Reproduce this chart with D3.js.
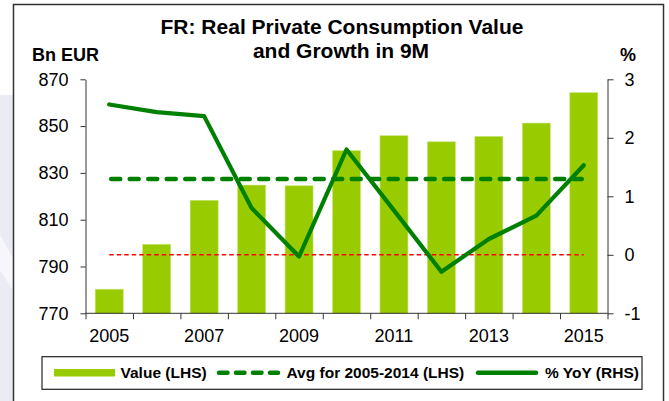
<!DOCTYPE html>
<html>
<head>
<meta charset="utf-8">
<script src="https://cdn.jsdelivr.net/npm/d3@7"></script>
<style>
  body { margin: 0; background: #fff; }
  svg { display: block; font-family: "Liberation Sans", Arial, sans-serif; }
  .axis path, .axis line { stroke: #333; }
  .axis text { font-size: 18px; fill: #000; }
</style>
</head>
<body>
<svg id="chart" width="669" height="401"></svg>
<script>
// data
var years = [2005, 2006, 2007, 2008, 2009, 2010, 2011, 2012, 2013, 2014, 2015];
var values = [780.3, 799.5, 818.3, 824.8, 824.5, 839.5, 845.9, 843.3, 845.6, 851.3, 864.3];
var yoy = [2.57, 2.44, 2.37, 0.80, -0.03, 1.80, 0.76, -0.29, 0.27, 0.67, 1.53];
var avgValue = 827.4;
var leftTicks = [770, 790, 810, 830, 850, 870];
var rightTicks = [-1, 0, 1, 2, 3];
var yearLabels = [2005, 2007, 2009, 2011, 2013, 2015];

var barColor = "#99cc00",
    lineColor = "#008000";

var svg = d3.select("#chart");

// slide background strip on the left + frame
svg.append("rect").attr("x", 0).attr("y", 95).attr("width", 13).attr("height", 306).attr("fill", "#ebebf4");
svg.append("path").attr("d", "M0,235 L13,258 L13,290 L0,270 Z").attr("fill", "#f7f7fb");
svg.append("path")
    .attr("d", "M13.5,410 V4.5 H663.5 V410")
    .attr("fill", "none").attr("stroke", "#333").attr("stroke-width", 1.5);

var plot = {left: 85.5, right: 607.5, top: 79.3, bottom: 313.3};

var x = d3.scaleBand()
    .domain(years)
    .range([plot.left, plot.right])
    .paddingInner(0.41)
    .paddingOuter(0.205);

var yL = d3.scaleLinear().domain([770, 870]).range([plot.bottom, plot.top]);
var yR = d3.scaleLinear().domain([-1, 3]).range([plot.bottom, plot.top]);

function cx(d) { return x(d) + x.bandwidth() / 2; }

// bars
svg.append("g").selectAll("rect")
    .data(years)
    .enter().append("rect")
    .attr("x", function(d) { return x(d); })
    .attr("width", x.bandwidth())
    .attr("y", function(d, i) { return yL(values[i]); })
    .attr("height", function(d, i) { return yL(770) - yL(values[i]); })
    .attr("fill", barColor)
    .attr("stroke", "#c8e47a")
    .attr("stroke-width", 0.6);

// zero line on RHS (red dashed)
svg.append("line")
    .attr("x1", cx(years[0])).attr("x2", cx(years[years.length - 1]))
    .attr("y1", yR(0)).attr("y2", yR(0))
    .attr("stroke", "#ff0000").attr("stroke-width", 1.6)
    .attr("stroke-dasharray", "4.5,3");

// average line (LHS)
svg.append("line")
    .attr("x1", cx(years[0]) + 2).attr("x2", cx(years[years.length - 1]) - 2)
    .attr("y1", yL(avgValue)).attr("y2", yL(avgValue))
    .attr("stroke", lineColor).attr("stroke-width", 4.5)
    .attr("stroke-linecap", "round")
    .attr("stroke-dasharray", "9,9.5");

// % YoY line (RHS)
var line = d3.line()
    .x(function(d, i) { return cx(years[i]); })
    .y(function(d) { return yR(d); });

svg.append("path")
    .datum(yoy)
    .attr("d", line)
    .attr("fill", "none")
    .attr("stroke", lineColor)
    .attr("stroke-width", 4.2)
    .attr("stroke-linejoin", "round")
    .attr("stroke-linecap", "round");

// axes
svg.append("g")
    .attr("class", "axis")
    .attr("transform", "translate(" + plot.left + ",0)")
    .call(d3.axisLeft(yL).tickValues(leftTicks).tickSize(5).tickSizeOuter(0).tickPadding(12));

svg.append("g")
    .attr("class", "axis")
    .attr("transform", "translate(" + plot.right + ",0)")
    .call(d3.axisRight(yR).tickValues(rightTicks)
        .tickFormat(function(d) { return String(d); })
        .tickSize(6).tickSizeOuter(0).tickPadding(11));

// bottom axis: tick marks between bands, labels every other year
var edges = years.map(function(d) { return x(d) - (x.step() - x.bandwidth()) / 2; });
edges.push(plot.right);
var edgeScale = d3.scaleIdentity();

var bottom = svg.append("g")
    .attr("class", "axis")
    .attr("transform", "translate(0," + plot.bottom + ")")
    .call(d3.axisBottom(edgeScale).tickValues(edges).tickSize(6).tickSizeOuter(0).tickFormat(""));
bottom.select(".domain").attr("d", "M" + plot.left + ",0H" + plot.right);

svg.append("g")
    .attr("class", "axis")
    .attr("transform", "translate(0," + plot.bottom + ")")
    .call(d3.axisBottom(x).tickValues(yearLabels).tickSize(0).tickPadding(16))
    .select(".domain").remove();

// titles
var title = svg.append("text")
    .attr("text-anchor", "middle")
    .attr("font-weight", "bold")
    .attr("font-size", 21);
title.append("tspan").attr("x", 342).attr("y", 34.3).text("FR: Real Private Consumption Value");
title.append("tspan").attr("x", 341).attr("y", 57.5).text("and Growth in 9M");

svg.append("text")
    .attr("x", 32).attr("y", 61)
    .attr("font-weight", "bold").attr("font-size", 18)
    .text("Bn EUR");

svg.append("text")
    .attr("x", 628).attr("y", 61)
    .attr("text-anchor", "middle")
    .attr("font-weight", "bold").attr("font-size", 18)
    .text("%");

// legend
var legend = svg.append("g");
legend.append("rect")
    .attr("x", 42).attr("y", 356.7).attr("width", 600).attr("height", 32.6)
    .attr("fill", "#fff").attr("stroke", "#222").attr("stroke-width", 1.2);

legend.append("rect")
    .attr("x", 54).attr("y", 369).attr("width", 61).attr("height", 7.5)
    .attr("fill", barColor);
legend.append("line")
    .attr("x1", 219).attr("x2", 278).attr("y1", 372.7).attr("y2", 372.7)
    .attr("stroke", lineColor).attr("stroke-width", 4.5)
    .attr("stroke-linecap", "round").attr("stroke-dasharray", "8.5,8.5");
legend.append("line")
    .attr("x1", 478).attr("x2", 536).attr("y1", 372.7).attr("y2", 372.7)
    .attr("stroke", lineColor).attr("stroke-width", 4.5)
    .attr("stroke-linecap", "round");

var legendLabels = ["Value (LHS)", "Avg for 2005-2014 (LHS)", "% YoY (RHS)"];
var legendX = [120.5, 286.5, 545];
legend.selectAll("text.lbl")
    .data(legendLabels)
    .enter().append("text")
    .attr("class", "lbl")
    .attr("x", function(d, i) { return legendX[i]; })
    .attr("y", 378)
    .attr("font-weight", "bold")
    .attr("font-size", 15.5)
    .text(function(d) { return d; });
</script>
</body>
</html>
